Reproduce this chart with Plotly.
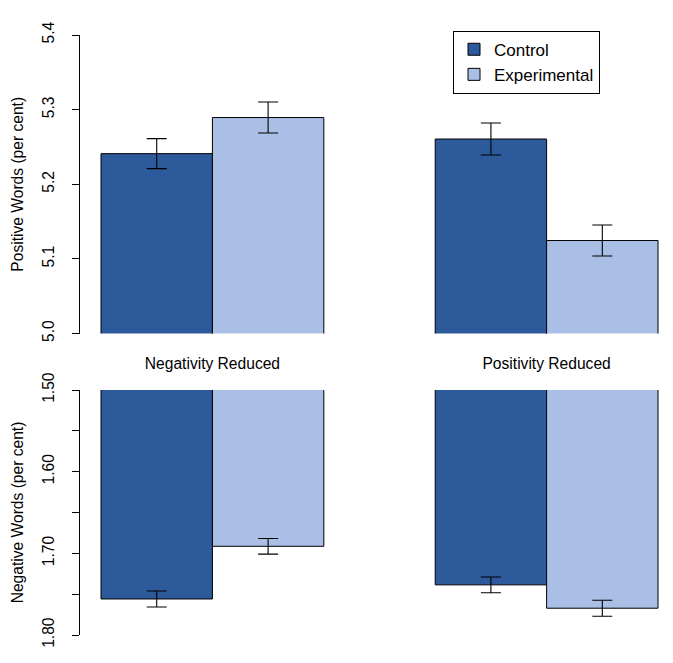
import plotly.graph_objects as go

groups = ["Negativity Reduced", "Positivity Reduced"]
series = ["Control", "Experimental"]
colors = {"Control": "#2C5A9A", "Experimental": "#AABFE5"}

pos_values = {"Control": [5.241, 5.2606], "Experimental": [5.2894, 5.1246]}
pos_errors = {"Control": [0.0201, 0.0214], "Experimental": [0.0208, 0.0208]}
neg_values = {"Control": [1.7559, 1.7386], "Experimental": [1.6914, 1.7672]}
neg_errors = {"Control": [0.0098, 0.0096], "Experimental": [0.0096, 0.0098]}

pos_ticks = [5.0, 5.1, 5.2, 5.3, 5.4]
neg_ticks = [1.50, 1.55, 1.60, 1.65, 1.70, 1.75, 1.80]
neg_ticktext = ["1.50", "", "1.60", "", "1.70", "", "1.80"]

W, H = 673, 663
FONT = "Liberation Sans, Arial, sans-serif"
FS = 15.6

fig = go.Figure()
for s in series:
    fig.add_trace(go.Bar(
        x=groups, y=pos_values[s], name=s,
        marker=dict(color=colors[s], line=dict(color="black", width=1)),
        error_y=dict(type="data", array=pos_errors[s], color="black", thickness=1.1, width=10),
        xaxis="x", yaxis="y", showlegend=True,
    ))
for s in series:
    fig.add_trace(go.Bar(
        x=groups, y=neg_values[s], name=s,
        marker=dict(color=colors[s], line=dict(color="black", width=1)),
        error_y=dict(type="data", array=neg_errors[s], color="black", thickness=1.1, width=10),
        xaxis="x2", yaxis="y2", showlegend=False,
    ))

xdom = [80 / W, 1.0]
xrange = [-0.3962, 1.3782]

def py(p):
    return 1 - p / H

fig.update_layout(
    width=W, height=H,
    margin=dict(l=0, r=0, t=0, b=0, autoexpand=False),
    paper_bgcolor="white", plot_bgcolor="white",
    font=dict(family=FONT, size=FS, color="black"),
    barmode="group", bargap=1/3, bargroupgap=0,
    xaxis=dict(domain=xdom, range=xrange, anchor="y", showline=False, ticks="",
               showgrid=False, zeroline=False, tickfont=dict(size=FS),
               ticklabelstandoff=19, automargin=False),
    xaxis2=dict(domain=xdom, range=xrange, anchor="y2", showline=False, ticks="",
                showgrid=False, zeroline=False, showticklabels=False, automargin=False),
    yaxis=dict(domain=[py(333.5), py(35)], range=[5.0, 5.4], anchor="x",
               tickvals=pos_ticks, ticktext=[f"{v:.1f}" for v in pos_ticks],
               tickangle=-90, ticks="outside", ticklen=7, tickcolor="black",
               showline=True, linecolor="black", linewidth=1, automargin=False,
               showgrid=False, zeroline=False, ticklabelstandoff=12,
               title=dict(text="Positive Words (per cent)", standoff=12,
                          font=dict(size=FS))),
    yaxis2=dict(domain=[py(635), py(390)], range=[1.8, 1.5], anchor="x2",
                tickvals=neg_ticks, ticktext=neg_ticktext, automargin=False,
                tickangle=-90, ticks="outside", ticklen=7, tickcolor="black",
                showline=True, linecolor="black", linewidth=1,
                showgrid=False, zeroline=False, ticklabelstandoff=12,
                title=dict(text="Negative Words (per cent)", standoff=12,
                           font=dict(size=FS))),
    legend=dict(x=453 / W, y=py(30.7), xanchor="left", yanchor="top",
                bordercolor="black", borderwidth=1, bgcolor="white",
                font=dict(size=17), traceorder="normal",
                entrywidth=123, entrywidthmode="pixels"),
)

fig.write_html("out.html")
